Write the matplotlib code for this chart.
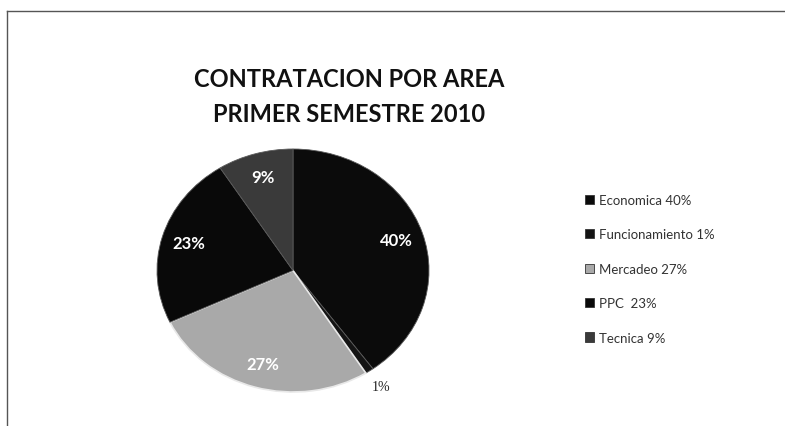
import matplotlib
matplotlib.use("Agg")
import matplotlib.pyplot as plt
from matplotlib.lines import Line2D
import numpy as np

areas = ['Economica', 'Funcionamiento', 'Mercadeo', 'PPC', 'Tecnica']
shares = [40, 1, 27, 23, 9]
legend_labels = ['Economica 40%', 'Funcionamiento 1%', 'Mercadeo 27%', 'PPC  23%', 'Tecnica 9%']
colors = ['#0b0b0b', '#141414', '#a9a9a9', '#090909', '#3a3a3a']

plt.rcParams['font.family'] = ['Lato', 'DejaVu Sans']

W, H = 785, 427
fig = plt.figure(figsize=(W / 100, H / 100), dpi=100)
fig.patch.set_facecolor('white')

# pie box in pixels: x 157..429, y 150..393 (slightly squashed, like the scan)
ax = fig.add_axes([157 / W, (H - 393) / H, 272 / W, 243 / H])
wedges, texts, autotexts = ax.pie(
    shares, colors=colors, startangle=90, counterclock=False,
    autopct='%1.0f%%', pctdistance=0.8, radius=1,
    wedgeprops=dict(edgecolor='#5a5a5a', linewidth=0.6),
    textprops=dict(color='white', fontsize=12, fontweight='bold'))
wedges[2].set_edgecolor('#e8e8e8')
wedges[2].set_linewidth(1.2)
ax.set_xlim(-1, 1)
ax.set_ylim(-1, 1)
ax.set_aspect('auto')
ax.axis('off')

# the tiny slice gets its label outside the pie
w = wedges[1]
mid = np.deg2rad((w.theta1 + w.theta2) / 2)
autotexts[1].set_position((1.15 * np.cos(mid), 1.15 * np.sin(mid)))
autotexts[1].set_color('#222222')
autotexts[1].set_fontweight('normal')
autotexts[1].set_fontsize(10)
autotexts[1].set_family(['Liberation Serif', 'DejaVu Serif'])
autotexts[1].set_clip_on(False)

fig.text(349 / W, 1 - 97 / H, 'CONTRATACION POR AREA\nPRIMER SEMESTRE 2010',
         ha='center', va='center', fontsize=17, fontweight='bold',
         color='#111111', linespacing=1.6)

handles = [plt.Rectangle((0, 0), 1, 1, facecolor=c, edgecolor='#333333', linewidth=0.6)
           for c in colors]
fig.legend(handles, legend_labels, loc='upper left',
           bbox_to_anchor=(573 / W, 1 - 183 / H), frameon=False,
           fontsize=9.5, labelcolor='#333333', handlelength=0.7, handleheight=0.7,
           handletextpad=0.4, labelspacing=1.7)

# chart area border (left and top only remain in the scan)
fig.add_artist(Line2D([7 / W, 7 / W], [0, 1 - 12 / H], color='#555555', lw=1))
fig.add_artist(Line2D([7 / W, 1], [1 - 12 / H, 1 - 12 / H], color='#555555', lw=1))

fig.savefig('out.png', dpi=100)
